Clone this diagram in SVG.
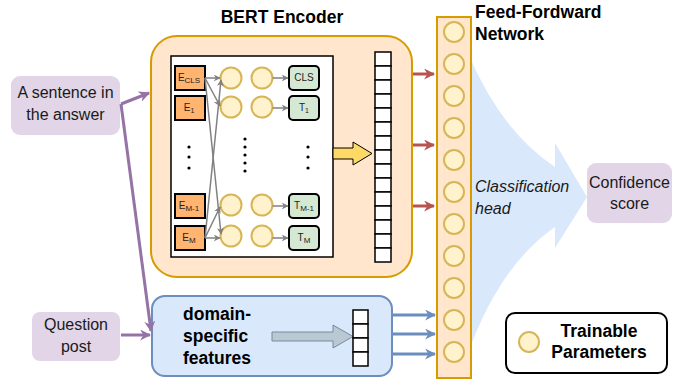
<svg xmlns="http://www.w3.org/2000/svg" width="692" height="381" viewBox="0 0 692 381">
<style>
.bold{font-family:"Liberation Sans",Arial,sans-serif;font-weight:bold;font-size:17.5px;fill:#000}
.norm{font-family:"Liberation Sans",Arial,sans-serif;font-size:16px;fill:#1a1a1a}
.ital{font-family:"Liberation Sans",Arial,sans-serif;font-style:italic;font-size:16px;fill:#1a1a1a}
.small{font-family:"Liberation Sans",Arial,sans-serif;font-size:10px;fill:#222}
.node{fill:#fff2cc;stroke:#d6b656;stroke-width:2}
.emb{fill:#ffb570;stroke:#000;stroke-width:2}
.tok{fill:#d5e8d4;stroke:#000;stroke-width:2}
.cell{fill:#fff;stroke:#000;stroke-width:1.5}
.gray{stroke:#808080;stroke-width:1.5;fill:none}
.dot{fill:#000}
</style>
<defs>
<marker id="ag" viewBox="0 0 10 10" refX="9" refY="5" markerWidth="7" markerHeight="7" markerUnits="userSpaceOnUse" orient="auto"><path d="M0,0 L10,5 L0,10 L3,5 Z" fill="#808080"/></marker>
<marker id="ar" viewBox="0 0 10 10" refX="9" refY="5" markerWidth="11" markerHeight="11" markerUnits="userSpaceOnUse" orient="auto"><path d="M0,0 L10,5 L0,10 L3,5 Z" fill="#b85450"/></marker>
<marker id="ab" viewBox="0 0 10 10" refX="9" refY="5" markerWidth="11" markerHeight="11" markerUnits="userSpaceOnUse" orient="auto"><path d="M0,0 L10,5 L0,10 L3,5 Z" fill="#6c8ebf"/></marker>
<marker id="ap" viewBox="0 0 10 10" refX="9" refY="5" markerWidth="11" markerHeight="11" markerUnits="userSpaceOnUse" orient="auto"><path d="M0,0 L10,5 L0,10 L3,5 Z" fill="#9673a6"/></marker>
</defs>

<!-- Classification head fan -->
<g id="classification-head">
<path d="M468,53 Q500,130 555,167 L555,143 L587,197 L555,248 L555,227 Q500,265 468,353 Z" fill="#dae8fc"/>
<text class="ital" x="475" y="192">Classification</text>
<text class="ital" x="475" y="214">head</text>
</g>

<g id="bert-encoder">
<text class="bold" x="282" y="23" text-anchor="middle">BERT Encoder</text>
<rect x="151" y="36" width="261" height="241" rx="26" fill="#ffe6cc" stroke="#d79b00" stroke-width="2"/>
<rect x="171" y="56" width="162" height="201" fill="#fff" stroke="#000" stroke-width="1.5"/>
<rect class="emb" x="175" y="66" width="30" height="24"/>
<rect class="emb" x="175" y="96" width="30" height="24"/>
<rect class="emb" x="175" y="194" width="30" height="24"/>
<rect class="emb" x="175" y="226" width="30" height="24"/>
<text class="small" x="189" y="81" text-anchor="middle">E<tspan font-size="8" dy="2">CLS</tspan></text>
<text class="small" x="189" y="111" text-anchor="middle">E<tspan font-size="7" dy="2">1</tspan></text>
<text class="small" x="189" y="209" text-anchor="middle">E<tspan font-size="8" dy="2">M-1</tspan></text>
<text class="small" x="189" y="241" text-anchor="middle">E<tspan font-size="8" dy="2">M</tspan></text>
<circle class="node" cx="231" cy="78" r="10.5"/>
<circle class="node" cx="231" cy="107" r="10.5"/>
<circle class="node" cx="231" cy="205" r="10.5"/>
<circle class="node" cx="231" cy="236" r="10.5"/>
<circle class="node" cx="262" cy="78" r="10.5"/>
<circle class="node" cx="262" cy="107" r="10.5"/>
<circle class="node" cx="262" cy="205" r="10.5"/>
<circle class="node" cx="262" cy="236" r="10.5"/>
<rect class="tok" x="289" y="66" width="30" height="24" rx="4"/>
<rect class="tok" x="289" y="96" width="30" height="24" rx="4"/>
<rect class="tok" x="289" y="194" width="30" height="24" rx="4"/>
<rect class="tok" x="289" y="226" width="30" height="24" rx="4"/>
<text class="small" x="304" y="81" text-anchor="middle">CLS</text>
<text class="small" x="304" y="111" text-anchor="middle">T<tspan font-size="7" dy="2">1</tspan></text>
<text class="small" x="304" y="209" text-anchor="middle">T<tspan font-size="8" dy="2">M-1</tspan></text>
<text class="small" x="304" y="241" text-anchor="middle">T<tspan font-size="8" dy="2">M</tspan></text>
<g class="dot">
<circle cx="189" cy="147" r="1.6"/><circle cx="189" cy="157" r="1.6"/><circle cx="189" cy="168" r="1.6"/>
<circle cx="245" cy="139" r="1.6"/><circle cx="245" cy="147" r="1.6"/><circle cx="245" cy="155" r="1.6"/><circle cx="245" cy="163" r="1.6"/><circle cx="245" cy="171" r="1.6"/>
<circle cx="308" cy="147" r="1.6"/><circle cx="308" cy="157" r="1.6"/><circle cx="308" cy="168" r="1.6"/>
</g>
<!-- output vector -->
<g id="bert-vector">
<rect class="cell" x="375" y="52" width="16" height="14"/><rect class="cell" x="375" y="66" width="16" height="14"/><rect class="cell" x="375" y="80" width="16" height="14"/><rect class="cell" x="375" y="94" width="16" height="14"/><rect class="cell" x="375" y="108" width="16" height="14"/>
<rect class="cell" x="375" y="122" width="16" height="14"/><rect class="cell" x="375" y="136" width="16" height="14"/><rect class="cell" x="375" y="150" width="16" height="14"/><rect class="cell" x="375" y="164" width="16" height="14"/><rect class="cell" x="375" y="178" width="16" height="14"/>
<rect class="cell" x="375" y="192" width="16" height="14"/><rect class="cell" x="375" y="206" width="16" height="14"/><rect class="cell" x="375" y="220" width="16" height="14"/><rect class="cell" x="375" y="234" width="16" height="14"/><rect class="cell" x="375" y="248" width="16" height="14"/>
</g>
<path d="M333,148 L353,148 L353,142 L372,153.5 L353,165 L353,159 L333,159 Z" fill="#ffd966" stroke="#000" stroke-width="1"/>
</g>

<g id="ffn">
<rect x="437" y="17" width="34" height="361" fill="#ffe6cc" stroke="#d79b00" stroke-width="2"/>
<circle class="node" cx="454" cy="32" r="10"/>
<circle class="node" cx="454" cy="64" r="10"/>
<circle class="node" cx="454" cy="96" r="10"/>
<circle class="node" cx="454" cy="128" r="10"/>
<circle class="node" cx="454" cy="160" r="10"/>
<circle class="node" cx="454" cy="192" r="10"/>
<circle class="node" cx="454" cy="224" r="10"/>
<circle class="node" cx="454" cy="256" r="10"/>
<circle class="node" cx="454" cy="288" r="10"/>
<circle class="node" cx="454" cy="320" r="10"/>
<circle class="node" cx="454" cy="352" r="10"/>
<text class="bold" x="475" y="18">Feed-Fordward</text>
<text class="bold" x="475" y="40">Network</text>
</g>

<g id="sentence">
<rect x="11" y="76" width="109" height="59" rx="9" fill="#e1d5e7"/>
<text class="norm" x="65.5" y="98" text-anchor="middle">A sentence in</text>
<text class="norm" x="65.5" y="120" text-anchor="middle">the answer</text>
</g>

<g id="question">
<rect x="32" y="312" width="88" height="49" rx="8" fill="#e1d5e7"/>
<text class="norm" x="76" y="330" text-anchor="middle">Question</text>
<text class="norm" x="76" y="352" text-anchor="middle">post</text>
</g>

<g id="domain-features">
<rect x="152" y="296" width="240" height="80" rx="13" fill="#dae8fc" stroke="#6c8ebf" stroke-width="2"/>
<text class="bold" x="183" y="320">domain-</text>
<text class="bold" x="183" y="342">specific</text>
<text class="bold" x="183" y="364">features</text>
<path d="M272,332 L333,332 L333,325 L353,336.5 L333,348 L333,341 L272,341 Z" fill="#bac8d3" stroke="#7a8a99" stroke-width="1"/>
<rect class="cell" x="353" y="310" width="15" height="14"/><rect class="cell" x="353" y="324" width="15" height="14"/><rect class="cell" x="353" y="338" width="15" height="14"/><rect class="cell" x="353" y="352" width="15" height="14"/>
</g>

<g id="confidence">
<rect x="587" y="163" width="85" height="60" rx="9" fill="#e1d5e7"/>
<text class="norm" x="629.5" y="188" text-anchor="middle">Confidence</text>
<text class="norm" x="629.5" y="209" text-anchor="middle">score</text>
</g>

<g id="legend">
<rect x="506" y="313" width="161" height="60" rx="9" fill="#fff" stroke="#000" stroke-width="2"/>
<circle class="node" cx="529" cy="342" r="10"/>
<text class="bold" x="599" y="337" text-anchor="middle">Trainable</text>
<text class="bold" x="599" y="358" text-anchor="middle">Parameters</text>
</g>

<g id="connectors">
<line class="gray" x1="205" y1="78" x2="220" y2="78" marker-end="url(#ag)"/>
<line class="gray" x1="205" y1="78" x2="220" y2="106" marker-end="url(#ag)"/>
<line class="gray" x1="205" y1="78" x2="221" y2="234" marker-end="url(#ag)"/>
<line class="gray" x1="205" y1="238" x2="220" y2="238" marker-end="url(#ag)"/>
<line class="gray" x1="205" y1="238" x2="220" y2="207" marker-end="url(#ag)"/>
<line class="gray" x1="205" y1="238" x2="221" y2="80" marker-end="url(#ag)"/>
<line class="gray" x1="272.5" y1="78" x2="288" y2="78" marker-end="url(#ag)"/>
<line class="gray" x1="272.5" y1="108" x2="288" y2="108" marker-end="url(#ag)"/>
<line class="gray" x1="272.5" y1="206" x2="288" y2="206" marker-end="url(#ag)"/>
<line class="gray" x1="272.5" y1="238" x2="288" y2="238" marker-end="url(#ag)"/>
<line x1="413" y1="74" x2="434" y2="74" stroke="#b85450" stroke-width="3" marker-end="url(#ar)"/>
<line x1="413" y1="145" x2="434" y2="145" stroke="#b85450" stroke-width="3" marker-end="url(#ar)"/>
<line x1="413" y1="206" x2="434" y2="206" stroke="#b85450" stroke-width="3" marker-end="url(#ar)"/>
<line x1="393" y1="315" x2="435" y2="315" stroke="#6c8ebf" stroke-width="3" marker-end="url(#ab)"/>
<line x1="393" y1="334" x2="435" y2="334" stroke="#6c8ebf" stroke-width="3" marker-end="url(#ab)"/>
<line x1="393" y1="354" x2="435" y2="354" stroke="#6c8ebf" stroke-width="3" marker-end="url(#ab)"/>
<line x1="121" y1="104" x2="149" y2="93" stroke="#9673a6" stroke-width="3" marker-end="url(#ap)"/>
<line x1="121" y1="104" x2="151" y2="331" stroke="#9673a6" stroke-width="3" marker-end="url(#ap)"/>
<line x1="121" y1="335" x2="150" y2="335" stroke="#9673a6" stroke-width="3" marker-end="url(#ap)"/>
</g>
</svg>
